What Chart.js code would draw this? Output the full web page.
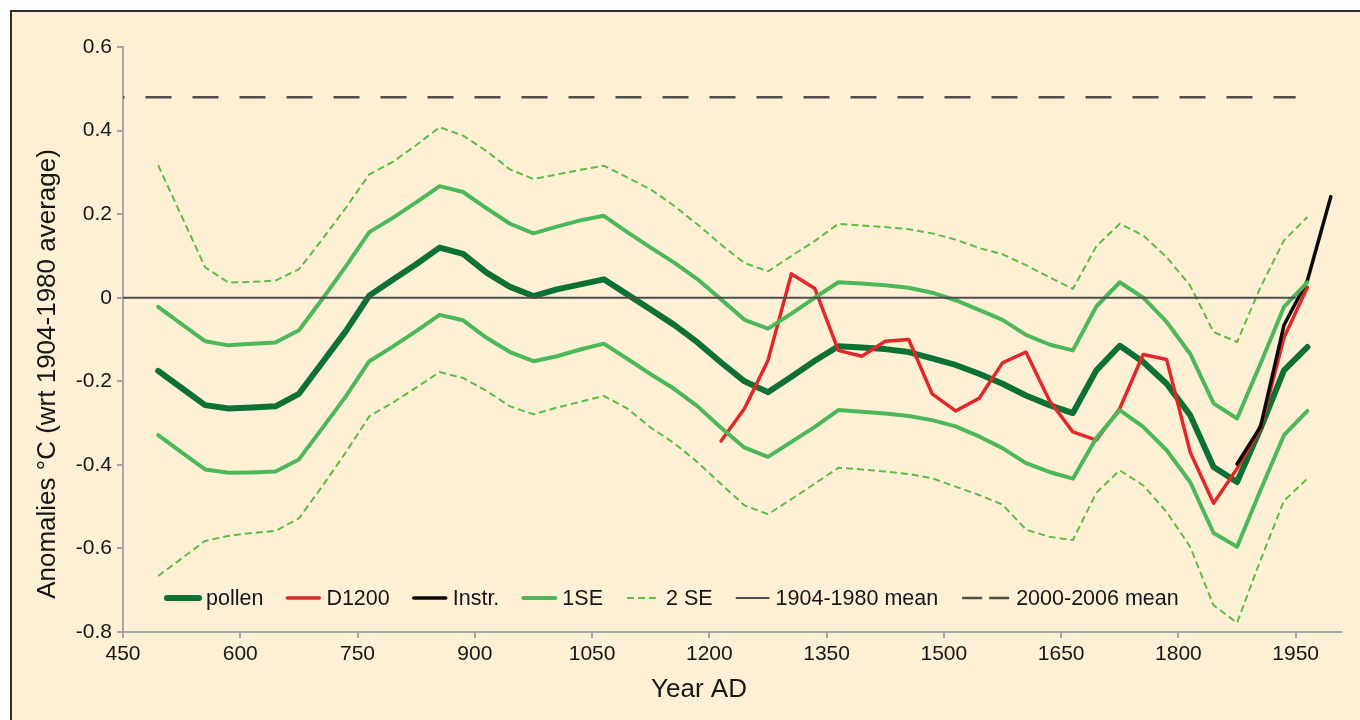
<!DOCTYPE html>
<html>
<head>
<meta charset="utf-8">
<title>Pollen-based temperature anomalies</title>
<script src="https://cdn.jsdelivr.net/npm/chart.js@4.4.0/dist/chart.umd.min.js"></script>
<style>
    html, body { margin: 0; padding: 0; background: #ffffff; overflow: hidden; }
    #frame {
        position: absolute; left: 10px; top: 10px; width: 1400px; height: 760px;
        background: rgb(254, 240, 212);
        border-top: 2px solid #2e2e2e; border-left: 2px solid #2e2e2e;
    }
    #chart { position: absolute; left: 0; top: 0; }
</style>
</head>
<body>
<div id="frame"></div>
<canvas id="chart" width="1360" height="720"></canvas>
<script>
// reconstruction years (30-yr steps) shared by pollen and its error bands
const years = [495, 525, 555, 585, 615, 645, 675, 705, 735, 765,
               795, 825, 855, 885, 915, 945, 975, 1005, 1035, 1065,
               1095, 1125, 1155, 1185, 1215, 1245, 1275, 1305, 1335, 1365,
               1395, 1425, 1455, 1485, 1515, 1545, 1575, 1605, 1635, 1665,
               1695, 1725, 1755, 1785, 1815, 1845, 1875, 1905, 1935, 1965];

const pollen = [-0.175, -0.216, -0.257, -0.265, -0.263, -0.26, -0.23, -0.155, -0.08, 0.005,
                0.043, 0.08, 0.12, 0.105, 0.06, 0.026, 0.004, 0.02, 0.032, 0.044,
                0.008, -0.028, -0.065, -0.107, -0.155, -0.2, -0.226, -0.189, -0.151, -0.116,
                -0.119, -0.123, -0.13, -0.145, -0.161, -0.182, -0.206, -0.234, -0.257, -0.276,
                -0.174, -0.115, -0.154, -0.206, -0.281, -0.405, -0.441, -0.313, -0.174, -0.118];

const se1Upper = [-0.022, -0.063, -0.104, -0.114, -0.11, -0.107, -0.078, -0.003, 0.075, 0.157,
                  0.191, 0.228, 0.267, 0.253, 0.214, 0.177, 0.154, 0.17, 0.185, 0.196,
                  0.157, 0.12, 0.084, 0.044, -0.004, -0.053, -0.074, -0.038, 0.0, 0.037,
                  0.034, 0.03, 0.024, 0.012, -0.006, -0.029, -0.053, -0.089, -0.112, -0.126,
                  -0.021, 0.037, 0.0, -0.058, -0.134, -0.253, -0.289, -0.158, -0.022, 0.037];

const se1Lower = [-0.329, -0.37, -0.411, -0.419, -0.418, -0.416, -0.387, -0.312, -0.236, -0.152,
                  -0.117, -0.08, -0.041, -0.054, -0.096, -0.13, -0.152, -0.14, -0.124, -0.11,
                  -0.146, -0.183, -0.218, -0.26, -0.311, -0.359, -0.381, -0.345, -0.309, -0.269,
                  -0.273, -0.277, -0.283, -0.293, -0.308, -0.332, -0.36, -0.396, -0.417, -0.433,
                  -0.336, -0.269, -0.309, -0.365, -0.441, -0.563, -0.596, -0.461, -0.329, -0.271];

const se2Upper = [0.317, 0.195, 0.073, 0.036, 0.038, 0.041, 0.068, 0.14, 0.215, 0.295,
                  0.325, 0.365, 0.408, 0.388, 0.351, 0.307, 0.284, 0.295, 0.306, 0.316,
                  0.288, 0.259, 0.22, 0.175, 0.127, 0.083, 0.063, 0.1, 0.136, 0.177,
                  0.173, 0.169, 0.164, 0.154, 0.139, 0.119, 0.104, 0.078, 0.049, 0.021,
                  0.123, 0.177, 0.149, 0.097, 0.029, -0.082, -0.106, 0.025, 0.137, 0.193];

const se2Lower = [-0.666, -0.624, -0.582, -0.57, -0.563, -0.558, -0.528, -0.451, -0.37, -0.284,
                  -0.251, -0.215, -0.178, -0.192, -0.223, -0.26, -0.279, -0.263, -0.249, -0.235,
                  -0.265, -0.311, -0.348, -0.394, -0.446, -0.497, -0.518, -0.482, -0.445, -0.407,
                  -0.411, -0.416, -0.422, -0.432, -0.452, -0.472, -0.495, -0.555, -0.572, -0.58,
                  -0.467, -0.413, -0.449, -0.513, -0.596, -0.736, -0.778, -0.628, -0.486, -0.433];

const d1200Years = [1215, 1245, 1275, 1305, 1335, 1365, 1395, 1425, 1455, 1485,
                    1515, 1545, 1575, 1605, 1635, 1665, 1695, 1725, 1755, 1785,
                    1815, 1845, 1875, 1905, 1935, 1965];
const d1200 = [-0.343, -0.265, -0.15, 0.057, 0.022, -0.126, -0.14, -0.104, -0.1, -0.23,
               -0.271, -0.241, -0.156, -0.13, -0.246, -0.321, -0.341, -0.265, -0.136, -0.148,
               -0.369, -0.492, -0.409, -0.313, -0.096, 0.025];

const instrYears = [1875, 1905, 1935, 1965, 1995];
const instr = [-0.398, -0.309, -0.066, 0.041, 0.242];

const meanYears = [450, 1950];
const mean1904 = [0, 0];
const mean2000 = [0.48, 0.48];

const xTicks = [450, 600, 750, 900, 1050, 1200, 1350, 1500, 1650, 1800, 1950];
const yTicks = [-0.8, -0.6, -0.4, -0.2, 0, 0.2, 0.4, 0.6];

const FONT = '"Liberation Sans", Arial, Helvetica, sans-serif';
const AXIS_GREY = '#a7a7a7';
const INK = '#161616';

function pts(xs, ys) {
    return xs.map((x, i) => ({ x: x, y: ys[i] }));
}

function lineSet(label, xs, ys, style) {
    return Object.assign({
        label: label,
        data: pts(xs, ys),
        pointRadius: 0,
        pointHoverRadius: 0,
        tension: 0,
        fill: false,
        borderJoinStyle: 'round',
        borderCapStyle: 'round'
    }, style);
}

const GREEN_DARK = '#0e7134';
const GREEN_1SE = '#4cb85a';
const GREEN_2SE = '#5cbd47';
const MEAN_GREY = '#4d4d4d';

const datasets = [
    lineSet('pollen', years, pollen, { borderColor: GREEN_DARK, borderWidth: 6, order: 9 }),
    lineSet('D1200', d1200Years, d1200, { borderColor: '#e2272b', borderWidth: 3.5, order: 8 }),
    lineSet('Instr.', instrYears, instr, { borderColor: '#0b0b0b', borderWidth: 3.5, order: 7 }),
    lineSet('1SE', years, se1Upper, { borderColor: GREEN_1SE, borderWidth: 4, order: 6 }),
    lineSet('1SE lower', years, se1Lower, { borderColor: GREEN_1SE, borderWidth: 4, order: 5, noKey: true }),
    lineSet('2 SE', years, se2Upper, { borderColor: GREEN_2SE, borderWidth: 2, borderDash: [7, 4], borderCapStyle: 'butt', order: 4 }),
    lineSet('2 SE lower', years, se2Lower, { borderColor: GREEN_2SE, borderWidth: 2, borderDash: [7, 4], borderCapStyle: 'butt', order: 3, noKey: true }),
    lineSet('1904-1980 mean', meanYears, mean1904, { borderColor: MEAN_GREY, borderWidth: 2, borderCapStyle: 'butt', order: 2 }),
    lineSet('2000-2006 mean', meanYears, mean2000, { borderColor: MEAN_GREY, borderWidth: 2.5, borderDash: [26, 21], borderDashOffset: 24.5, borderCapStyle: 'butt', order: 1, keyDash: [20, 7], keyLength: 47 })
];

// in-plot key and the two axis titles
const keyAndTitles = {
    id: 'keyAndTitles',
    afterDraw(chart) {
        const ctx = chart.ctx;
        ctx.save();

        ctx.fillStyle = INK;
        ctx.font = '26px ' + FONT;
        ctx.textAlign = 'center';
        ctx.textBaseline = 'middle';
        ctx.fillText('Year AD', 699, 690);
        ctx.save();
        ctx.translate(48, 374);
        ctx.rotate(-Math.PI / 2);
        ctx.fillText('Anomalies \u00B0C (wrt 1904-1980 average)', 0, 0);
        ctx.restore();

        ctx.font = '21.5px ' + FONT;
        ctx.textAlign = 'left';
        let x = 167;
        const y = 598;
        chart.data.datasets.forEach(ds => {
            if (ds.noKey) return;
            const len = ds.keyLength || 32;
            ctx.beginPath();
            ctx.strokeStyle = ds.borderColor;
            ctx.lineWidth = ds.borderWidth;
            ctx.lineCap = ds.borderDash ? 'butt' : 'round';
            ctx.setLineDash(ds.keyDash || ds.borderDash || []);
            ctx.moveTo(x, y);
            ctx.lineTo(x + len, y);
            ctx.stroke();
            ctx.setLineDash([]);
            ctx.fillStyle = INK;
            ctx.fillText(ds.label, x + len + 7, y + 1);
            x += len + 7 + ctx.measureText(ds.label).width + 24;
        });
        ctx.restore();
    }
};

Chart.defaults.font.family = FONT;

new Chart(document.getElementById('chart'), {
    type: 'line',
    data: { datasets: datasets },
    options: {
        responsive: false,
        animation: false,
        events: [],
        layout: { padding: { top: 47, right: 19, bottom: 0, left: 0 } },
        plugins: {
            legend: { display: false },
            tooltip: { enabled: false }
        },
        scales: {
            x: {
                type: 'linear',
                min: 450,
                max: 2008,
                afterBuildTicks: scale => { scale.ticks = xTicks.map(v => ({ value: v })); },
                afterFit: scale => { scale.height = 88; },
                ticks: {
                    color: INK,
                    font: { size: 21 },
                    padding: 4,
                    maxRotation: 0,
                    autoSkip: false,
                    callback: v => String(v)
                },
                grid: { drawOnChartArea: false, drawTicks: true, tickLength: 6, color: AXIS_GREY, lineWidth: 2 },
                border: { display: true, color: AXIS_GREY, width: 2 }
            },
            y: {
                min: -0.8,
                max: 0.6,
                afterBuildTicks: scale => { scale.ticks = yTicks.map(v => ({ value: v })); },
                afterFit: scale => { scale.width = 123; },
                ticks: {
                    color: INK,
                    font: { size: 21 },
                    padding: 5,
                    autoSkip: false,
                    callback: v => String(Math.round(v * 10) / 10)
                },
                grid: { drawOnChartArea: false, drawTicks: true, tickLength: 6, color: AXIS_GREY, lineWidth: 2 },
                border: { display: true, color: AXIS_GREY, width: 2 }
            }
        }
    },
    plugins: [keyAndTitles]
});
</script>
</body>
</html>
